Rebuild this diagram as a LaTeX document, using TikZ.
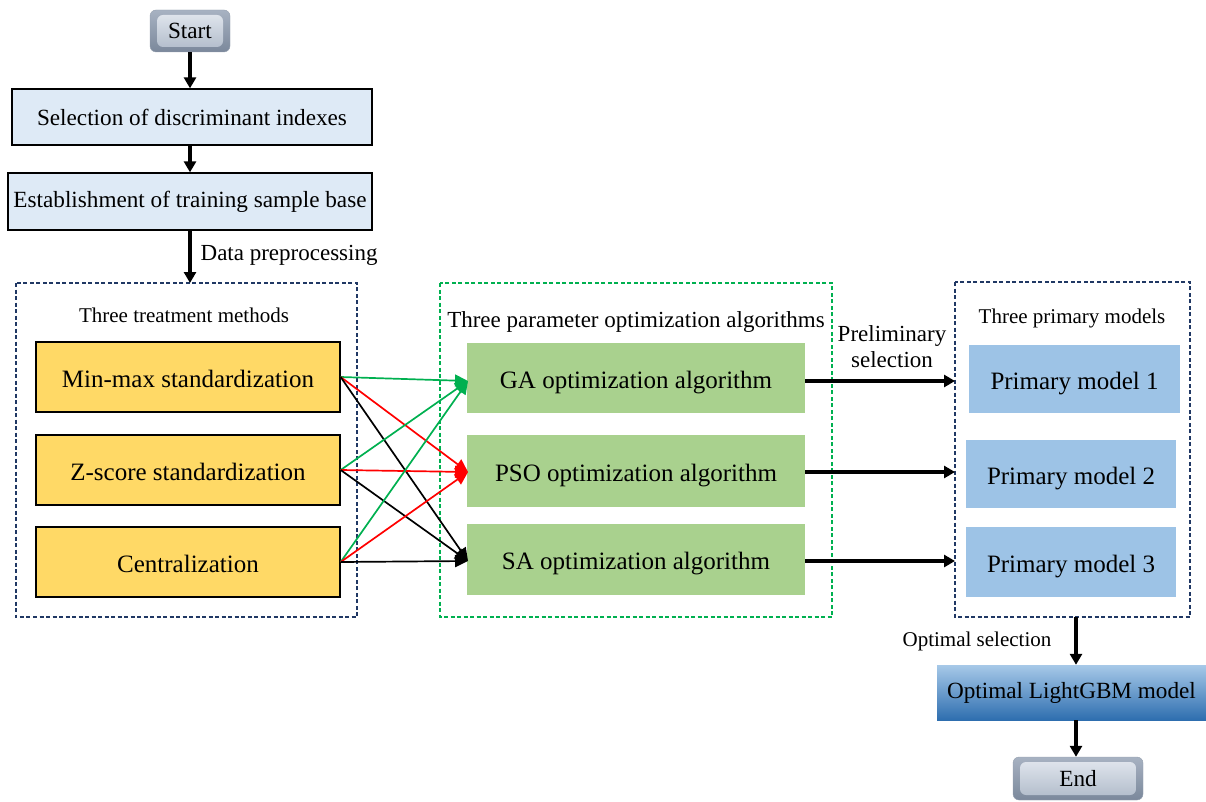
\documentclass[tikz,border=0pt]{standalone}
\usepackage{fontspec}
\setmainfont{Liberation Serif}
\usetikzlibrary{arrows.meta,calc,shadings}
\definecolor{lblue}{HTML}{DEEAF6}
\definecolor{yel}{HTML}{FFD966}
\definecolor{grn}{HTML}{A9D18E}
\definecolor{pblue}{HTML}{9DC3E6}
\definecolor{navy}{HTML}{203864}
\definecolor{dgreen}{HTML}{00B050}
\definecolor{btnA}{HTML}{A7B2C2}
\definecolor{btnB}{HTML}{7B889B}
\definecolor{btnC}{HTML}{E4E9F0}
\definecolor{btnD}{HTML}{AEB9C8}
\begin{document}
\begin{tikzpicture}[x=1pt,y=-1pt,
  chain/.style={font=\fontsize{23.2}{27}\selectfont},
  big/.style={font=\fontsize{25}{29}\selectfont, text height=20pt, text depth=0pt},
  small/.style={font=\fontsize{21}{25}\selectfont},
  mid/.style={font=\fontsize{23}{26}\selectfont},
  btn/.style={chain, rounded corners=6pt, draw=btnB!80, top color=btnA, bottom color=btnB, inner sep=0pt,
    path picture={\shade[top color=btnC, bottom color=btnD] ($(path picture bounding box.north west)+(7,5)$) rectangle ($(path picture bounding box.south east)+(-7,-5)$);}},
  bluebox/.style={chain, draw=black, line width=1.3pt, fill=lblue, inner sep=0pt},
  yelbox/.style={big, draw=black, line width=1.3pt, fill=yel, inner sep=0pt},
  grnbox/.style={big, fill=grn, inner sep=0pt},
  pbox/.style={big, fill=pblue, inner sep=0pt},
  frame/.style={line width=1.5pt, dash pattern=on 4pt off 2.5pt},
  flow/.style={line width=3.3pt, -{Triangle[length=11pt,width=12pt]}},
  cross/.style={line width=1.7pt, -{Triangle[length=13pt,width=12pt]}},
  lbl/.style={inner sep=1pt}
]
\useasboundingbox (0,0) rectangle (1206,802);

% top chain
\node[btn, minimum width=80pt, minimum height=42pt] (start) at (190,31) {Start};
\node[bluebox, minimum width=360pt, minimum height=56pt] (sel) at (192,117) {Selection of discriminant indexes};
\node[bluebox, minimum width=364pt, minimum height=57pt] (est) at (190,201.5) {Establishment of training sample base};

% frames
\draw[frame, draw=navy] (16,283) rectangle (357,617);
\draw[frame, draw=dgreen] (440,283) rectangle (832,617);
\draw[frame, draw=navy] (955,282) rectangle (1190,617);
\coordinate (f1top) at (190,283);
\coordinate (f3bot) at (1076,617);
\coordinate (f3left1) at (955,381);
\coordinate (f3left2) at (955,472);
\coordinate (f3left3) at (955,561);

\node[lbl, small] (t1) at (184,315) {Three treatment methods};
\node[lbl, mid] (t2) at (636,322) {Three parameter optimization algorithms};
\node[lbl, small] (t3) at (1072,318) {Three primary models};

% treatment boxes
\node[yelbox, minimum width=304pt, minimum height=70pt] (mm) at (188,377) {Min-max standardization};
\node[yelbox, minimum width=304pt, minimum height=70pt] (zs) at (188,470) {Z-score standardization};
\node[yelbox, minimum width=304pt, minimum height=70pt] (ce) at (188,562) {Centralization};

% algorithm boxes
\node[grnbox, minimum width=338pt, minimum height=70pt] (ga) at (636,378) {GA optimization algorithm};
\node[grnbox, minimum width=338pt, minimum height=72pt] (pso) at (636,471) {PSO optimization algorithm};
\node[grnbox, minimum width=338pt, minimum height=71pt] (sa) at (636,559.5) {SA optimization algorithm};

% primary models
\node[pbox, minimum width=211pt, minimum height=68pt] (p1) at (1074.5,379) {Primary model 1};
\node[pbox, minimum width=210pt, minimum height=68pt] (p2) at (1071,474) {Primary model 2};
\node[pbox, minimum width=210pt, minimum height=70pt] (p3) at (1071,562) {Primary model 3};

% final
\node[chain, minimum width=269pt, minimum height=55pt, inner sep=0pt, top color=pblue!90!white, bottom color={rgb,255:red,46;green,110;blue,175}] (opt) at (1071.5,692.5) {Optimal LightGBM model};
\node[btn, minimum width=130pt, minimum height=43pt] (end) at (1078,778.5) {End};

% flow arrows
\draw[flow] (start.south) -- (start.south |- sel.north);
\draw[flow] (sel.south -| est.south) -- (est.north);
\draw[flow] (est.south) -- (f1top) node[lbl, mid, midway, right=8pt, yshift=1pt] (dp) {Data preprocessing};
\draw[flow] (f3bot) -- (opt.north -| f3bot) node[lbl, small, midway, left=22pt, yshift=-1pt] (os) {Optimal selection};
\draw[flow] (opt.south -| f3bot) -- (end.north -| f3bot);

\draw[flow] (ga.east |- f3left1) -- (f3left1);
\draw[flow] (pso.east |- f3left2) -- (f3left2);
\draw[flow] (sa.east |- f3left3) -- (f3left3);
\node[lbl, mid, align=center] (ps) at (892,347) {Preliminary\\selection};

% cross arrows
\coordinate (gaL) at (468,381);
\coordinate (psoL) at (468,472);
\coordinate (saL) at (468,561);
\foreach \s in {mm,zs,ce}{
  \draw[cross, dgreen] (\s.east) -- (gaL);
  \draw[cross, red] (\s.east) -- (psoL);
  \draw[cross, black] (\s.east) -- (saL);
}
\end{tikzpicture}
\end{document}
